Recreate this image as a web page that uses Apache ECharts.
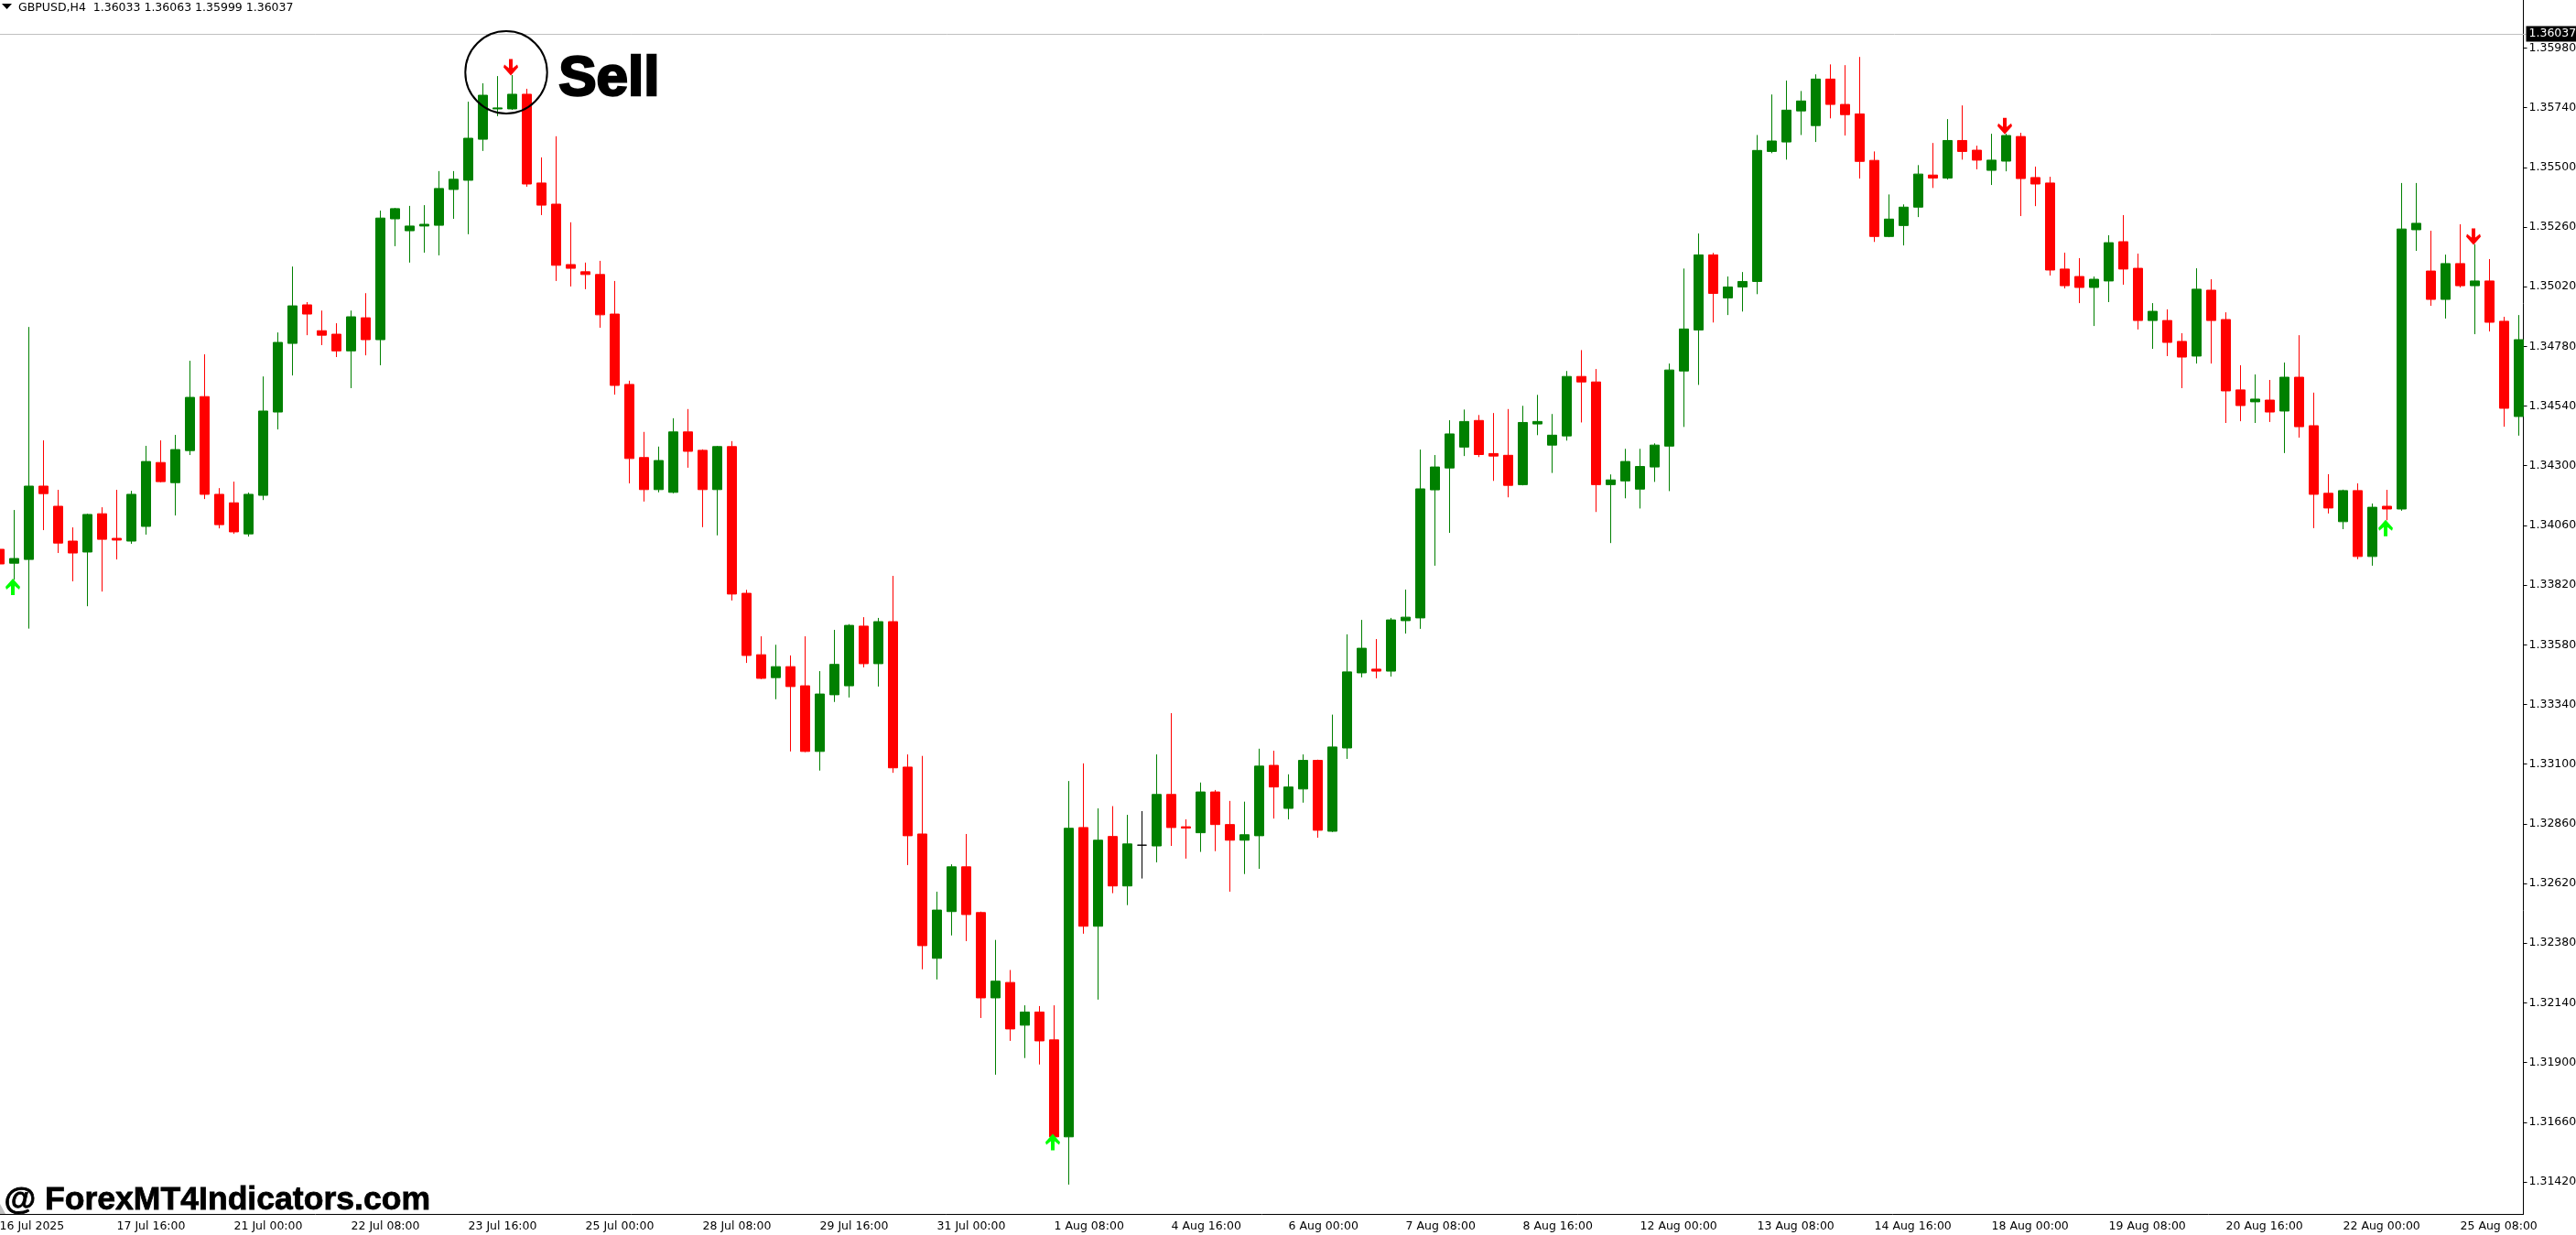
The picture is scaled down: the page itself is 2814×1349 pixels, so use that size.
<!DOCTYPE html>
<html>
<head>
<meta charset="utf-8">
<title>GBPUSD,H4</title>
<script src="https://cdn.jsdelivr.net/npm/echarts@6/dist/echarts.min.js"></script>
<style>
  html, body { margin: 0; padding: 0; background: #fff; overflow: hidden; }
  #chart { width: 2814px; height: 1349px; }
</style>
</head>
<body>
<div id="chart"></div>
<script>
// bars, oldest first (H4 candles)
const opens = [
  1.33964,1.33908,1.33923,1.34218,1.34137,1.33997,1.33953,1.34107,1.34008,1.33997,
  1.34056,1.34313,1.34232,1.34361,1.34578,1.34185,1.34151,1.34026,1.34181,1.34516,
  1.34792,1.34947,1.34843,1.34829,1.34762,1.34895,1.34807,1.35293,1.35245,1.35264,
  1.35267,1.35411,1.35448,1.35613,1.35735,1.35735,1.35794,1.35437,1.35352,1.35109,
  1.3508,1.35069,1.3491,1.34627,1.34333,1.34204,1.34193,1.34436,1.34362,1.34204,
  1.34377,1.33787,1.3354,1.33448,1.33492,1.33415,1.33151,1.33379,1.33415,1.33655,
  1.33504,1.33673,1.33088,1.32819,1.32319,1.32507,1.32687,1.32503,1.3216,1.32222,
  1.3205,1.32103,1.31991,1.31601,1.32845,1.32448,1.32809,1.3261,1.32774,1.32771,
  1.32978,1.32848,1.32824,1.32988,1.32857,1.32794,1.32812,1.33095,1.32922,1.33,
  1.33115,1.3283,1.33165,1.33467,1.33482,1.33474,1.33677,1.33688,1.34203,1.34291,
  1.34375,1.34482,1.34349,1.34342,1.34224,1.34468,1.34383,1.3442,1.34659,1.34637,
  1.34224,1.34239,1.34206,1.34295,1.34379,1.34681,1.34846,1.35148,1.34975,1.35019,
  1.35041,1.35564,1.35602,1.35727,1.35668,1.35855,1.35753,1.35715,1.35528,1.35222,
  1.35266,1.3534,1.35469,1.35457,1.35608,1.35569,1.35488,1.35525,1.35624,1.35459,
  1.35437,1.35091,1.35061,1.35017,1.35043,1.35201,1.35094,1.34884,1.34884,1.348,
  1.34741,1.35006,1.34888,1.34605,1.34557,1.34564,1.3452,1.34656,1.34461,1.34189,
  1.34075,1.342,1.33935,1.34137,1.34126,1.35249,1.35083,1.34969,1.35113,1.35024,
  1.35043,1.34881,1.34498
];
const closes = [
  1.33905,1.33927,1.34218,1.34188,1.33989,1.33949,1.34104,1.34004,1.34001,1.34185,
  1.34317,1.34236,1.34365,1.34575,1.34185,1.34063,1.34034,1.34185,1.3452,1.34796,
  1.34943,1.3491,1.34825,1.34762,1.34899,1.34807,1.35296,1.35334,1.35264,1.35271,
  1.35415,1.35452,1.35617,1.3579,1.35739,1.35794,1.35433,1.35348,1.35106,1.35094,
  1.35069,1.34907,1.34623,1.34329,1.34204,1.34321,1.34436,1.34358,1.34204,1.34377,
  1.33784,1.33537,1.33445,1.33492,1.33412,1.33151,1.33382,1.33501,1.33658,1.33504,
  1.33673,1.33085,1.32812,1.3237,1.32513,1.32687,1.32495,1.3216,1.32227,1.32035,
  1.32103,1.31987,1.31601,1.32842,1.32448,1.32794,1.3261,1.32779,1.32774,1.32978,
  1.32845,1.32843,1.32988,1.32857,1.32794,1.32816,1.33092,1.33008,1.33008,1.33115,
  1.32834,1.33169,1.33471,1.33566,1.33474,1.3368,1.33691,1.34207,1.34295,1.34428,
  1.34478,1.34345,1.34339,1.34221,1.34474,1.34478,1.34423,1.34659,1.34637,1.34224,
  1.34243,1.34317,1.34297,1.34383,1.34685,1.3485,1.35148,1.34993,1.35019,1.35041,
  1.35568,1.35606,1.3573,1.35767,1.35855,1.35753,1.35712,1.35524,1.35222,1.35292,
  1.3534,1.35473,1.35457,1.35608,1.35564,1.35529,1.35529,1.35628,1.35455,1.35433,
  1.35087,1.35024,1.35017,1.3505,1.35197,1.35091,1.34884,1.34921,1.34796,1.34737,
  1.3501,1.34884,1.34601,1.34542,1.34568,1.34516,1.34656,1.34457,1.34185,1.3413,
  1.342,1.33935,1.34133,1.34126,1.35252,1.35275,1.34969,1.35113,1.35024,1.35043,
  1.34877,1.34531,1.34807
];
const lows = [
  1.33891,1.33841,1.33645,1.34041,1.33949,1.33835,1.33735,1.33794,1.33923,1.33986,
  1.34023,1.34233,1.341,1.34343,1.34166,1.34048,1.34026,1.34015,1.34162,1.34446,
  1.34663,1.34825,1.34785,1.34737,1.34612,1.34744,1.34704,1.35183,1.35117,1.35157,
  1.35146,1.35293,1.35231,1.35566,1.35706,1.35731,1.35422,1.35308,1.35043,1.35021,
  1.3501,1.34855,1.34586,1.34229,1.34156,1.34193,1.34189,1.34292,1.34053,1.3402,
  1.33758,1.33507,1.33442,1.33361,1.33151,1.33148,1.33074,1.3335,1.33368,1.33489,
  1.33412,1.33065,1.32694,1.32275,1.32234,1.32411,1.32388,1.32079,1.31851,1.31987,
  1.31918,1.31892,1.31595,1.31409,1.32418,1.32153,1.32581,1.32533,1.3264,1.32705,
  1.32771,1.3272,1.32747,1.3275,1.32587,1.32658,1.32679,1.32881,1.32878,1.32945,
  1.32804,1.32827,1.33121,1.33449,1.33445,1.33452,1.33625,1.33644,1.33898,1.3403,
  1.34339,1.34335,1.34239,1.34173,1.34221,1.34423,1.34271,1.34401,1.34474,1.34114,
  1.33989,1.34169,1.34128,1.34235,1.34198,1.34456,1.34625,1.34876,1.34906,1.3492,
  1.3499,1.35557,1.35531,1.3563,1.35602,1.35697,1.35628,1.35455,1.352,1.35219,
  1.35186,1.353,1.35417,1.35451,1.35531,1.35492,1.35429,1.35484,1.35304,1.35344,
  1.35065,1.35013,1.34954,1.34862,1.34958,1.35028,1.34848,1.3477,1.34741,1.34612,
  1.34711,1.34711,1.34472,1.34479,1.34472,1.34476,1.34351,1.34413,1.34049,1.34108,
  1.34045,1.33924,1.33898,1.34081,1.34119,1.35164,1.34943,1.34892,1.35017,1.34829,
  1.3484,1.34457,1.34421
];
const highs = [
  1.33989,1.34122,1.34858,1.34402,1.34203,1.34052,1.34107,1.34133,1.34203,1.34199,
  1.3438,1.34402,1.34424,1.34722,1.34748,1.3421,1.34236,1.34192,1.34659,1.34836,
  1.35101,1.34958,1.34924,1.34873,1.34924,1.34994,1.35326,1.35337,1.35345,1.35348,
  1.35485,1.35485,1.35764,1.35838,1.35867,1.35871,1.35816,1.3554,1.35625,1.35279,
  1.35117,1.35124,1.35043,1.34642,1.34436,1.34377,1.34491,1.34528,1.34366,1.3438,
  1.34399,1.33801,1.33614,1.3358,1.33537,1.33614,1.33474,1.3364,1.33663,1.33691,
  1.33688,1.33857,1.33139,1.33133,1.32587,1.32697,1.32819,1.32507,1.32393,1.32272,
  1.3213,1.32127,1.3213,1.33032,1.33103,1.32922,1.32931,1.32896,1.32911,1.33139,
  1.33305,1.32878,1.33026,1.32996,1.32952,1.32949,1.33162,1.33154,1.33059,1.33139,
  1.33118,1.33299,1.33622,1.3368,1.33603,1.33688,1.33802,1.34365,1.34343,1.34483,
  1.34526,1.34504,1.34512,1.34528,1.34541,1.34585,1.34508,1.34681,1.34765,1.34689,
  1.34265,1.34368,1.34368,1.3439,1.34711,1.35093,1.35234,1.35156,1.35061,1.35079,
  1.3563,1.35793,1.35849,1.35807,1.35874,1.35914,1.35911,1.35944,1.35564,1.35391,
  1.35351,1.35509,1.35598,1.35694,1.35749,1.35587,1.35635,1.35635,1.35639,1.35503,
  1.35462,1.35157,1.35135,1.35061,1.35227,1.35308,1.35153,1.34954,1.34929,1.34833,
  1.35094,1.3505,1.34917,1.34704,1.34667,1.34645,1.34715,1.34825,1.34594,1.34266,
  1.34204,1.34229,1.34148,1.34203,1.35437,1.35437,1.35245,1.35149,1.35271,1.35191,
  1.35131,1.34899,1.34906
];

// one label every 8 bars
const timeLabels = [
  '16 Jul 2025','17 Jul 16:00','21 Jul 00:00','22 Jul 08:00','23 Jul 16:00','25 Jul 00:00',
  '28 Jul 08:00','29 Jul 16:00','31 Jul 00:00','1 Aug 08:00','4 Aug 16:00','6 Aug 00:00',
  '7 Aug 08:00','8 Aug 16:00','12 Aug 00:00','13 Aug 08:00','14 Aug 16:00','18 Aug 00:00',
  '19 Aug 08:00','20 Aug 16:00','22 Aug 00:00','25 Aug 08:00'
];
const priceTicks = [
  1.3142,1.3166,1.319,1.3214,1.3238,1.3262,1.3286,1.331,1.3334,1.3358,
  1.3382,1.3406,1.343,1.3454,1.3478,1.3502,1.3526,1.355,1.3574,1.3598
];
const lastPrice = 1.36037;

// indicator arrows: [bar index, price]
const buyArrows = [[1, 1.33813], [72, 1.3158], [163, 1.3405]];
const sellArrows = [[35, 1.35902], [137, 1.35666], [169, 1.35221]];

const UP_ARROW = 'path://M6 18L10 18L10 8L15 12L16 9L8 0L0 9L1 12L6 8Z';
const DOWN_ARROW = 'path://M6 0L10 0L10 10L15 6L16 9L8 18L0 9L1 6L6 10Z';
const FONT = '"DejaVu Sans", sans-serif';

const bars = opens.map((o, i) => [o, closes[i], lows[i], highs[i]]);

const chart = echarts.init(document.getElementById('chart'));
chart.setOption({
  animation: false,
  backgroundColor: '#fff',
  title: {
    text: 'GBPUSD,H4  1.36033 1.36063 1.35999 1.36037',
    left: 20,
    top: 2,
    padding: 0,
    textStyle: { color: '#000', fontFamily: FONT, fontSize: 12.5, fontWeight: 'normal' }
  },
  grid: { left: -8.5, top: 0, width: 2768, height: 1326, outerBoundsMode: 'none' },
  xAxis: {
    type: 'category',
    data: bars.map((b, i) => i),
    axisLine: { show: false },
    axisTick: { alignWithLabel: true, interval: 7, length: 5, lineStyle: { color: '#000' } },
    axisLabel: {
      interval: 7,
      hideOverlap: false,
      align: 'left',
      margin: 7,
      color: '#000',
      fontFamily: FONT,
      fontSize: 12.5,
      formatter: (v, i) => timeLabels[i / 8] || ''
    },
    splitLine: { show: false }
  },
  yAxis: {
    type: 'value',
    position: 'right',
    offset: -3,
    min: 1.31291,
    max: 1.36173,
    axisLine: { show: true, lineStyle: { color: '#000', width: 1 } },
    axisTick: { show: true, length: 4, customValues: priceTicks, lineStyle: { color: '#000' } },
    axisLabel: {
      customValues: priceTicks,
      margin: 6,
      hideOverlap: false,
      color: '#000',
      fontFamily: FONT,
      fontSize: 12.5,
      formatter: v => v.toFixed(5)
    },
    splitLine: { show: false }
  },
  series: [
    {
      type: 'candlestick',
      data: bars,
      barWidth: 10,
      itemStyle: {
        color: '#008000',
        color0: '#ff0000',
        borderColor: '#008000',
        borderColor0: '#ff0000',
        borderColorDoji: '#000',
        borderWidth: 1
      },
      markLine: {
        silent: true,
        symbol: 'none',
        animation: false,
        precision: 5,
        lineStyle: { color: '#c0c0c0', width: 1, type: 'solid' },
        label: {
          position: 'end',
          distance: 0,
          formatter: lastPrice.toFixed(5),
          color: '#fff',
          backgroundColor: '#000',
          fontFamily: FONT,
          fontSize: 12.5,
          padding: [2, 3]
        },
        data: [{ yAxis: lastPrice }]
      }
    },
    {
      type: 'scatter',
      data: buyArrows,
      symbol: UP_ARROW,
      symbolSize: [16, 18],
      symbolOffset: [-1.5, 0],
      itemStyle: { color: '#00ff00', opacity: 1 },
      z: 5
    },
    {
      type: 'scatter',
      data: sellArrows,
      symbol: DOWN_ARROW,
      symbolSize: [16, 18],
      symbolOffset: [-1.5, 0],
      itemStyle: { color: '#ff0000', opacity: 1 },
      z: 5
    }
  ],
  // overlay notes pasted on the screenshot, and the time axis base line that stops at the price axis
  graphic: [
    { type: 'line', shape: { x1: 0, y1: 1326.5, x2: 2757, y2: 1326.5 }, style: { stroke: '#000', lineWidth: 1 } },
    { type: 'polygon', shape: { points: [[2, 4], [13, 4], [7.5, 10]] }, style: { fill: '#000' } },
    { type: 'ellipse', shape: { cx: 553, cy: 79, rx: 44.7, ry: 45 }, style: { fill: null, stroke: '#000', lineWidth: 2 }, z: 10 },
    {
      type: 'text', left: 609, top: 55, z: 10,
      style: { text: 'Sell', fill: '#000', stroke: '#000', lineWidth: 2.5, font: 'bold 62px "Liberation Sans", Arial, sans-serif' }
    },
    {
      type: 'text', left: 4, top: 1293, z: 10,
      style: { text: '@ ForexMT4Indicators.com', fill: '#000', stroke: '#000', lineWidth: 0.8, font: 'bold 35.6px "Liberation Sans", Arial, sans-serif' }
    },
    { type: 'polygon', shape: { points: [[0, 1315], [6, 1326], [0, 1326]] }, style: { fill: '#c0c0c0' } }
  ]
});
</script>
</body>
</html>
